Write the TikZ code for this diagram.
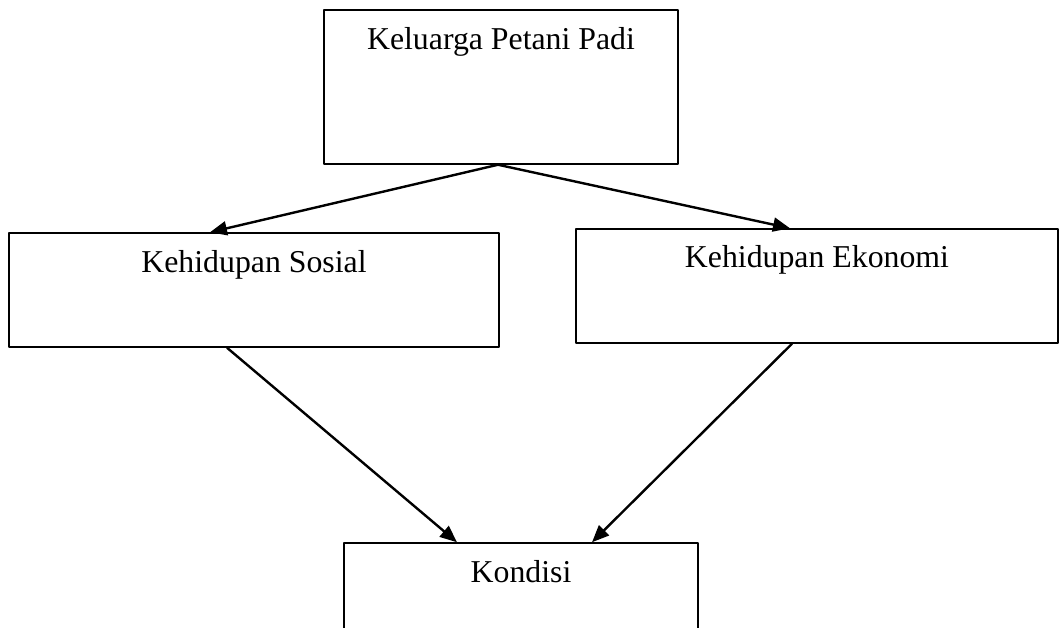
\documentclass[tikz,border=0pt]{standalone}
\usepackage{fontspec}
\setmainfont{Liberation Serif}
\usetikzlibrary{arrows.meta,positioning,calc}

\begin{document}
\begin{tikzpicture}[x=1pt, y=1pt, line join=round,
  kotak/.style={draw, line width=1.5pt, inner sep=0pt},
  judul/.style={anchor=base, inner sep=0pt, font=\fontsize{31.8}{38}\selectfont},
  panah/.style={line width=2.4pt, -{Triangle[length=17pt,width=14pt]}}]
\clip (0,0) rectangle (1060,628);
\node[kotak, minimum width=354pt, minimum height=154pt] (keluarga) at (501,541) {};
\node[kotak, minimum width=490pt, minimum height=114pt] (sosial)   at (254,338) {};
\node[kotak, minimum width=482pt, minimum height=114pt] (ekonomi)  at (817,342) {};
\node[kotak, minimum width=354pt, minimum height=154pt] (kondisi)  at (521,8) {};
% teks di dalam kotak
\node[judul] (t-keluarga) at ([yshift=-40pt]keluarga.north) {Keluarga Petani Padi};
\node[judul] (t-sosial)   at ([yshift=-40pt]sosial.north)   {Kehidupan Sosial};
\node[judul] (t-ekonomi)  at ([yshift=-39pt]ekonomi.north)  {Kehidupan Ekonomi};
\node[judul] (t-kondisi)  at ([yshift=-40pt]kondisi.north)  {Kondisi};
% panah
\draw[panah] ([xshift=-3pt]keluarga.south) -- ([xshift=-44pt]sosial.north);
\draw[panah] ([xshift=-3pt]keluarga.south) -- ([xshift=-27pt]ekonomi.north);
\draw[panah] ([xshift=-27pt]sosial.south)  -- ([xshift=-64pt]kondisi.north);
\draw[panah] ([xshift=-25pt]ekonomi.south) -- ([xshift=71pt]kondisi.north);
\end{tikzpicture}
\end{document}
